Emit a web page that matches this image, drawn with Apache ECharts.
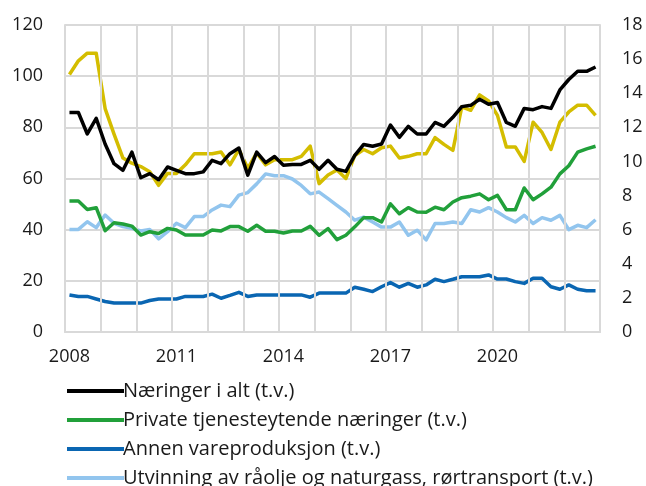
<!DOCTYPE html>
<html>
<head>
<meta charset="utf-8">
<script src="https://cdn.jsdelivr.net/npm/echarts@6/dist/echarts.min.js"></script>
<style>
  html, body { margin: 0; padding: 0; background: #fff; }
  #chart { width: 646px; height: 486px; }
</style>
</head>
<body>
<div id="chart"></div>
<script>
  // kvartaler 2008K1 - 2022K4
  var startYear = 2008;
  var endYear = 2022;
  var quarters = [];
  for (var y = startYear; y <= endYear; y++) {
    for (var q = 1; q <= 4; q++) quarters.push(y + 'K' + q);
  }

  // venstre akse (t.v.)
  var naeringerIAlt = [85.8,85.8,77.4,83.5,73.5,65.8,63.2,70.3,60.3,61.9, 59.5,64.5,63.2,61.9,61.9,62.6,67.1,65.8,69.7,71.9, 61.3,70.3,66.2,68.6,65.2,65.5,65.5,67.1,63.6,67.1, 63.6,62.8,69,73.3,72.6,73.5,80.9,76.1,80.4,77.4, 77.4,81.9,80.4,83.9,88.1,88.6,91,89,89.7,81.9, 80.4,87.4,86.9,88.1,87.4,94.6,98.7,101.9,101.9,103.6];
  var privateTjenester = [51.2,51.2,47.9,48.6,39.6,42.7,42.2,41.4,37.9,39.2, 38.5,40.5,39.9,37.9,37.9,37.9,39.9,39.5,41.2,41.2, 39.4,41.7,39.4,39.4,38.7,39.5,39.5,41.3,37.8,40.4, 36.1,37.8,41.1,44.7,44.7,43,50.1,46.2,48.6,46.9, 46.8,48.8,47.8,50.8,52.5,53.1,54,51.7,53.4,47.8, 47.8,56.3,51.7,54,56.6,61.8,65,70.3,71.6,72.6];
  var annenVareproduksjon = [14.5,13.9,13.9,12.9,11.9,11.3,11.3,11.3,11.3,12.3, 12.9,12.9,12.9,13.9,13.9,13.9,14.8,13.2,14.3,15.5, 13.9,14.5,14.5,14.5,14.5,14.5,14.5,13.6,15.2,15.2, 15.2,15.2,17.5,16.7,15.8,17.7,19.3,17.5,19,17.5, 18.4,20.6,19.7,20.6,21.6,21.6,21.6,22.3,20.7,20.7, 19.7,19,21,21,17.7,16.7,18.4,16.7,16.1,16.1];
  var utvinning = [40.1,40.1,43.1,40.8,45.7,42.5,41.2,40.5,39.5,40.1, 36.4,39.2,42.5,40.8,45.1,45.1,47.7,49.6,49,53.5, 54.5,57.9,61.8,61.1,61.1,59.8,57.3,54,54.7,52.1, 49.5,46.9,43.7,44.9,43,41,41,43,37.8,39.8, 36,42.4,42.4,43,42.4,47.8,46.9,48.6,46.9,44.7, 43,45.6,42.4,44.7,43.7,45.6,40,41.7,40.8,43.9];
  // høyre akse (h.v.)
  var industri = [15.1,15.9,16.35,16.35,13.1,11.6,10.2,9.9,9.7,9.4, 8.6,9.3,9.3,9.8,10.45,10.45,10.45,10.55,9.8,10.7, 9.6,10.5,9.8,10.1,10.1,10.1,10.3,10.9,8.7,9.2, 9.5,9.0,10.35,10.7,10.45,10.8,10.9,10.2,10.3,10.45, 10.45,11.4,11.0,10.65,13.2,13.0,13.9,13.55,12.7,10.85, 10.85,10.0,12.3,11.7,10.7,12.3,12.9,13.3,13.3,12.7];

  var seriesNames = [
    'Næringer i alt (t.v.)',
    'Private tjenesteytende næringer (t.v.)',
    'Annen vareproduksjon (t.v.)',
    'Utvinning av råolje og naturgass, rørtransport (t.v.)',
    'Industri (h.v.)'
  ];

  var gridColor = '#d9d9d9';
  var textColor = '#1a1a1a';
  var font = '"Open Sans", sans-serif';

  // årsgrenser (i kvartaler) for loddrette rutenettlinjer
  var yearBounds = [];
  for (var k = 0; k <= quarters.length; k += 4) yearBounds.push({ xAxis: k });

  function line(name, data, color, axis, z) {
    return {
      name: name,
      type: 'line',
      data: data,
      yAxisIndex: axis,
      symbol: 'none',
      z: z,
      lineStyle: { color: color, width: 3.5, join: 'round' },
      itemStyle: { color: color }
    };
  }

  var myChart = echarts.init(document.getElementById('chart'), null, { renderer: 'canvas' });
  myChart.setOption({
    animation: false,
    textStyle: { fontFamily: font, color: textColor },
    grid: { left: 65, right: 46, top: 25, bottom: 154 },
    legend: {
      orient: 'vertical',
      left: 62,
      top: 376,
      height: 130,
      icon: 'rect',
      itemWidth: 57,
      itemHeight: 4,
      itemGap: 9,
      data: seriesNames.slice(0, 4),
      textStyle: { fontFamily: font, fontSize: 20, lineHeight: 20, color: textColor, padding: [0, 0, 0, -6] }
    },
    xAxis: [
      {
        type: 'category',
        data: quarters,
        boundaryGap: true,
        axisLine: { lineStyle: { color: gridColor, width: 2 } },
        axisTick: { show: false },
        axisLabel: {
          interval: 11,
          margin: 16,
          fontSize: 18,
          color: textColor,
          formatter: function (v) { return v.slice(0, 4); }
        },
        splitLine: { show: false }
      },
      {
        type: 'value',
        min: 0, max: quarters.length, interval: 4,
        position: 'top',
        axisLine: { show: false },
        axisTick: { show: false },
        axisLabel: { show: false },
        splitLine: { show: true, lineStyle: { color: gridColor, width: 2 } }
      }
    ],
    yAxis: [
      {
        type: 'value',
        min: 0, max: 120, interval: 20,
        axisLine: { show: true, lineStyle: { color: gridColor, width: 2 } },
        axisTick: { show: false },
        axisLabel: { fontSize: 18, color: textColor, margin: 22 },
        splitLine: { show: true, lineStyle: { color: gridColor, width: 2 } }
      },
      {
        type: 'value',
        min: 0, max: 18, interval: 2,
        position: 'right',
        axisLine: { show: true, lineStyle: { color: gridColor, width: 2 } },
        axisTick: { show: false },
        axisLabel: { fontSize: 18, color: textColor, margin: 22 },
        splitLine: { show: false }
      }
    ],
    series: [
      {
        // hjelpeserie: loddrette linjer ved årsskifte
        name: 'rutenett',
        type: 'line',
        xAxisIndex: 1,
        yAxisIndex: 0,
        data: [],
        z: 1,
        silent: true,
        markLine: {
          silent: true,
          symbol: 'none',
          label: { show: false },
          lineStyle: { color: gridColor, width: 2, type: 'solid' },
          emphasis: { disabled: true },
          data: yearBounds
        }
      },
      line(seriesNames[4], industri, '#d4bd00', 1, 2),
      line(seriesNames[3], utvinning, '#92c5ee', 0, 3),
      line(seriesNames[2], annenVareproduksjon, '#0a66b2', 0, 4),
      line(seriesNames[1], privateTjenester, '#21a03a', 0, 5),
      line(seriesNames[0], naeringerIAlt, '#000000', 0, 6)
    ]
  });
</script>
</body>
</html>
